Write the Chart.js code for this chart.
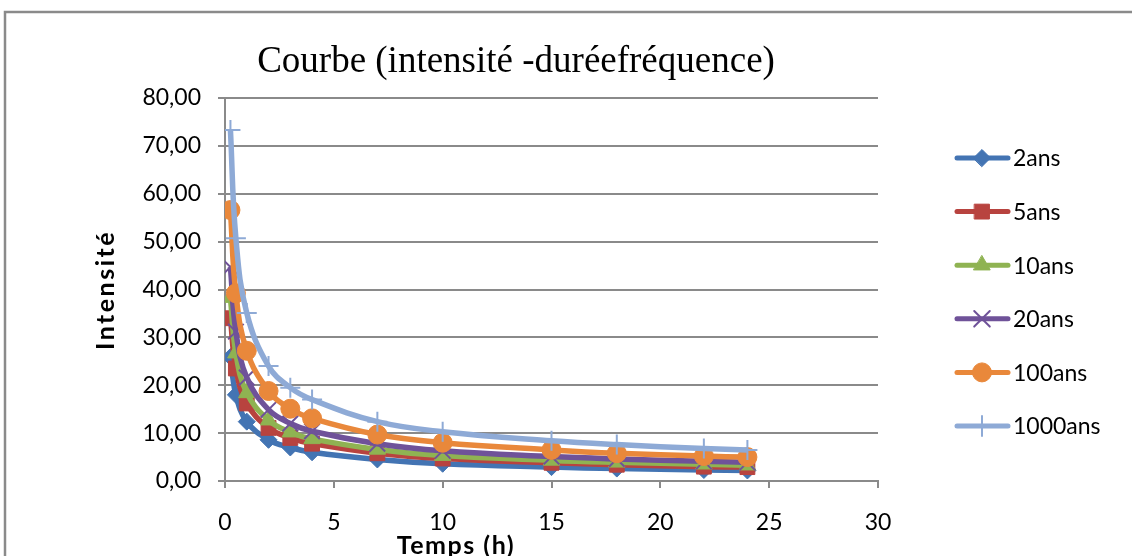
<!DOCTYPE html>
<html lang="fr">
<head>
    <meta charset="UTF-8">
    <script src="https://cdn.jsdelivr.net/npm/chart.js"></script>
    <title>Courbe IDF</title>
    <style>
        html, body { margin: 0; padding: 0; background: white; }
        #zone { width: 1132px; height: 556px; }
    </style>
</head>
<body>
    <div id="zone"><canvas id="myChart" width="1132" height="556"></canvas></div>

<script>
// durées (h)
const temps = [0.25, 0.5, 1, 2, 3, 4, 7, 10, 15, 18, 22, 24];

// intensités
const ans2    = [25.9, 18.0, 12.4, 8.6, 7.0, 6.0, 4.5, 3.6, 2.9, 2.6, 2.3, 2.2];
const ans5    = [34.0, 23.5, 16.2, 11.1, 9.0, 7.8, 5.8, 4.7, 3.8, 3.4, 3.0, 2.9];
const ans10   = [38.3, 26.7, 18.4, 12.7, 10.2, 8.8, 6.6, 5.3, 4.3, 3.9, 3.5, 3.3];
const ans20   = [44.7, 31.2, 21.6, 14.9, 12.0, 10.4, 7.8, 6.3, 5.1, 4.6, 4.1, 3.9];
const ans100  = [56.6, 39.2, 27.2, 18.8, 15.1, 13.1, 9.7, 8.0, 6.5, 5.8, 5.2, 5.0];
const ans1000 = [73.3, 50.7, 35.1, 24.0, 19.5, 17.0, 12.4, 10.3, 8.4, 7.6, 6.8, 6.5];

const periodes = ['2ans', '5ans', '10ans', '20ans', '100ans', '1000ans'];
const xTicks = [0, 5, 10, 15, 20, 25, 30];
const yTicks = [0, 10, 20, 30, 40, 50, 60, 70, 80];

const police = "Lato, 'Noto Sans', sans-serif";

function points(valeurs) {
    return temps.map(function (t, i) { return { x: t, y: valeurs[i] }; });
}

function serie(nom, valeurs, couleur, style, rayon, epaisseur, ordre) {
    return {
        label: nom,
        data: points(valeurs),
        borderColor: couleur,
        backgroundColor: couleur,
        borderWidth: 5.5,
        tension: 0.4,
        pointStyle: style,
        pointRadius: rayon,
        pointHoverRadius: rayon,
        pointBackgroundColor: couleur,
        pointBorderColor: couleur,
        pointBorderWidth: epaisseur,
        order: ordre
    };
}

// cadre, titres et légende
const decor = {
    id: 'decor',
    beforeDraw: function (chart) {
        const ctx = chart.ctx;
        ctx.save();
        ctx.fillStyle = 'white';
        ctx.fillRect(0, 0, chart.width, chart.height);
        ctx.strokeStyle = '#8a8a8a';
        ctx.lineWidth = 2.5;
        ctx.strokeRect(5, 12, 1300, 700);
        ctx.restore();
    },
    afterDraw: function (chart) {
        const ctx = chart.ctx;
        ctx.save();
        ctx.fillStyle = 'black';
        ctx.textAlign = 'center';
        ctx.textBaseline = 'middle';
        ctx.font = "37px 'Liberation Serif', 'DejaVu Serif', serif";
        ctx.fillText('Courbe (intensité -duréefréquence)', 516, 62);

        ctx.font = 'bold 25px ' + police;
        ctx.letterSpacing = '1.5px';
        ctx.fillText('Temps (h)', 456, 546);

        ctx.save();
        ctx.translate(106, 290);
        ctx.rotate(-Math.PI / 2);
        ctx.letterSpacing = '2.5px';
        ctx.fillText('Intensité', 0, 0);
        ctx.restore();
        ctx.letterSpacing = '0px';

        const ds = chart.data.datasets;
        for (let i = 0; i < ds.length; i++) {
            const y = 158 + i * 53.6;
            ctx.strokeStyle = ds[i].borderColor;
            ctx.lineWidth = 5;
            ctx.lineCap = 'round';
            ctx.beginPath();
            ctx.moveTo(957, y);
            ctx.lineTo(1008, y);
            ctx.stroke();
            ctx.fillStyle = ds[i].pointBackgroundColor;
            ctx.strokeStyle = ds[i].pointBorderColor;
            ctx.lineWidth = ds[i].pointBorderWidth;
            Chart.helpers.drawPoint(ctx, {
                pointStyle: ds[i].pointStyle,
                radius: ds[i].pointRadius,
                rotation: 0,
                borderWidth: ds[i].pointBorderWidth
            }, 982, y);
            ctx.fillStyle = 'black';
            ctx.textAlign = 'left';
            ctx.font = '23px ' + police;
            ctx.fillText(ds[i].label, 1013, y + 1);
        }
        ctx.restore();
    }
};

const dados = {
    datasets: [
        serie(periodes[0], ans2, '#4374b3', 'rectRot', 8.5, 1, 6),
        serie(periodes[1], ans5, '#b8433f', 'rect', 10.5, 1, 5),
        serie(periodes[2], ans10, '#8fb352', 'triangle', 9.5, 1, 4),
        serie(periodes[3], ans20, '#6f5299', 'crossRot', 11, 2, 3),
        serie(periodes[4], ans100, '#e9883b', 'circle', 9.5, 1, 2),
        serie(periodes[5], ans1000, '#8eaad6', 'cross', 10, 2, 1)
    ]
};

const config = {
    type: 'line',
    data: dados,
    options: {
        responsive: false,
        animation: false,
        layout: { padding: { left: 0, right: 254, top: 98, bottom: 0 } },
        plugins: {
            legend: { display: false },
            tooltip: { enabled: false }
        },
        scales: {
            x: {
                type: 'linear',
                min: 0,
                max: 30,
                afterFit: function (s) { s.height = 75; },
                afterBuildTicks: function (s) { s.ticks = xTicks.map(function (v) { return { value: v }; }); },
                ticks: {
                    color: 'black',
                    padding: 21,
                    maxRotation: 0,
                    font: { family: police, size: 23 }
                },
                grid: {
                    drawOnChartArea: false,
                    drawTicks: true,
                    tickLength: 7,
                    color: '#8a8a8a',
                    lineWidth: 2
                },
                border: { color: '#8a8a8a', width: 2 }
            },
            y: {
                min: 0,
                max: 80,
                afterFit: function (s) { s.width = 225; },
                afterBuildTicks: function (s) { s.ticks = yTicks.map(function (v) { return { value: v }; }); },
                ticks: {
                    color: 'black',
                    padding: 17,
                    font: { family: police, size: 23 },
                    callback: function (v) { return v.toFixed(2).replace('.', ','); }
                },
                grid: {
                    color: '#8a8a8a',
                    lineWidth: 2,
                    tickLength: 7
                },
                border: { color: '#8a8a8a', width: 2 }
            }
        }
    },
    plugins: [decor]
};

let ctx = document.getElementById('myChart').getContext('2d');
let myChart = new Chart(ctx, config);
</script>
</body>
</html>
